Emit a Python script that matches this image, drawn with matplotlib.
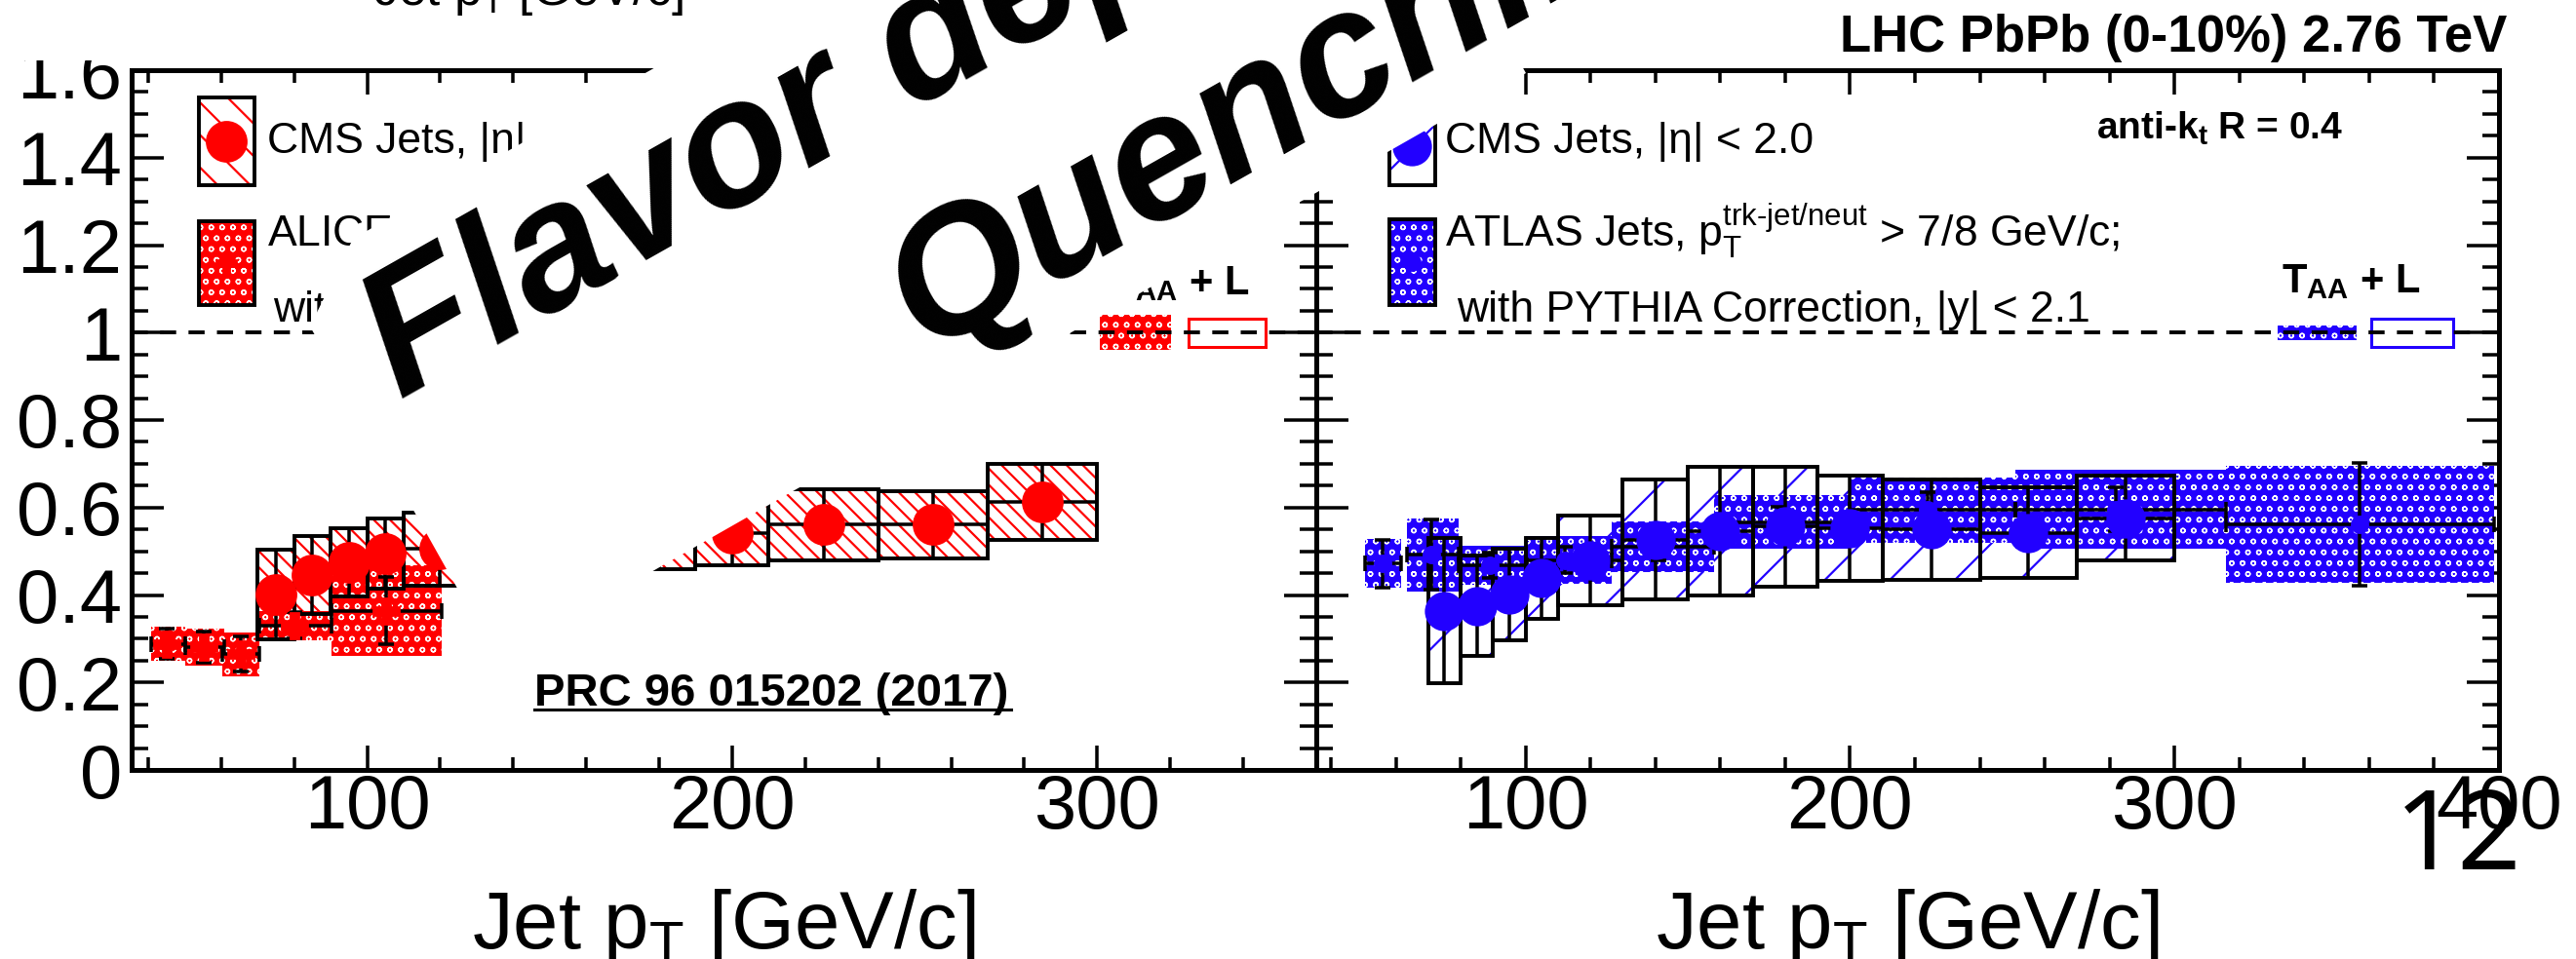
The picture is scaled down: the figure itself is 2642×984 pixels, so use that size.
import numpy as np
import matplotlib
matplotlib.use('Agg')
import matplotlib.pyplot as plt
from matplotlib.patches import Rectangle, Polygon
from matplotlib.lines import Line2D
from matplotlib.ticker import MultipleLocator, FuncFormatter

W, H, DPI = 2642, 984, 200

plt.rcParams['font.family'] = ['Liberation Sans', 'DejaVu Sans']
plt.rcParams['mathtext.fontset'] = 'custom'
plt.rcParams['mathtext.rm'] = 'Liberation Sans'
plt.rcParams['mathtext.it'] = 'Liberation Sans:italic'
plt.rcParams['mathtext.bf'] = 'Liberation Sans:bold'
plt.rcParams['hatch.linewidth'] = 0.8

RED = '#ff0000'
BLUE = '#2200ff'
DOT_LW = 0.5   # line width of the white dot pattern

# ---- data -----------------------------------------------------------
# CMS jet bins (both panels)
cms_lo = [70, 80, 90, 100, 110, 130, 150, 170, 190, 210, 240, 270]
cms_hi = [80, 90, 100, 110, 130, 150, 170, 190, 210, 240, 270, 300]
cms_pt = [75, 85, 95, 105, 120, 140, 160, 180, 200, 225, 255, 285]

# left panel, CMS (red)
cms_red = [0.401, 0.446, 0.475, 0.494, 0.505, 0.52, 0.53, 0.535, 0.542, 0.561, 0.561, 0.613]
cms_red_sys = [0.102, 0.089, 0.078, 0.080, 0.084, 0.080, 0.080, 0.075, 0.074, 0.081, 0.077, 0.087]

# right panel, CMS (blue)
cms_blue = [0.364, 0.375, 0.401, 0.438, 0.479, 0.527, 0.546, 0.557, 0.553, 0.550, 0.542, 0.576]
cms_blue_sys = [0.166, 0.115, 0.104, 0.093, 0.102, 0.136, 0.146, 0.137, 0.120, 0.115, 0.104, 0.097]

# left panel, ALICE
alice_lo = [40.9, 50.2, 60.4, 70.6, 90.2]
alice_hi = [50.2, 60.9, 70.6, 90.2, 120.4]
alice_pt = [45.0, 55.3, 65.5, 80.0, 105.3]
alice_val = [0.288, 0.281, 0.265, 0.330, 0.364]
alice_sys = [0.039, 0.043, 0.050, 0.034, 0.104]
alice_stat = [0.035, 0.035, 0.040, 0.030, 0.077]

# right panel, ATLAS
atlas_lo = [50.5, 63.5, 79.5, 100.0, 126.4, 158.2, 200.0, 251.0, 316.0]
atlas_hi = [61.5, 79.5, 100.5, 126.4, 158.2, 200.0, 251.0, 316.0, 398.5]
atlas_pt = [56, 71, 89, 112, 141, 178, 224, 282, 357]
atlas_val = [0.472, 0.492, 0.468, 0.480, 0.510, 0.567, 0.594, 0.596, 0.561]
atlas_sys = [0.056, 0.084, 0.045, 0.054, 0.058, 0.062, 0.075, 0.091, 0.134]
atlas_stat = [0.055, 0.080, 0.030, 0.030, 0.030, 0.035, 0.040, 0.050, 0.140]

# T_AA + lumi boxes [lo, hi, half height]
taa_left_fill = [300.8, 320.3, 0.040]
taa_left_line = [325.0, 346.0, 0.032]
taa_right_fill = [331.7, 356.0, 0.017]
taa_right_line = [360.7, 386.0, 0.032]

xlim_left = (35.5, 360)
xlim_right = (35.5, 400)

# white box behind the slide title (pixels from top-left)
title_box = [(794, 0), (362, 245), (318, 335), (435, 543), (467, 600),
             (510, 677), (1565, 75), (1523, 0)]


def px(x, y):
    return x / W, 1 - y / H


def thin_dots(patches):
    for p in patches:
        if hasattr(p, 'set_hatch_linewidth'):
            p.set_hatch_linewidth(DOT_LW)


def cms_boxes(ax, vals, sys, color, hatch, msize):
    lo = np.array(cms_lo, float)
    hi = np.array(cms_hi, float)
    v = np.array(vals)
    s = np.array(sys)
    ax.bar(lo, 2 * s, width=hi - lo, bottom=v - s, align='edge', facecolor='none',
           edgecolor=color, linewidth=0, hatch=hatch, zorder=1)
    ax.bar(lo, 2 * s, width=hi - lo, bottom=v - s, align='edge', fill=False,
           edgecolor='black', linewidth=1.4, zorder=3)
    ax.hlines(v, lo, hi, colors='black', lw=1.26, zorder=3)
    ax.vlines(cms_pt, v - s, v + s, colors='black', lw=1.26, zorder=3)
    ax.plot(cms_pt, v, 'o', color=color, mec=color, ms=msize, zorder=5)


def dotted_boxes(ax, lo, hi, pt, vals, sys, stat, color, marker, msize):
    lo = np.array(lo)
    hi = np.array(hi)
    pt = np.array(pt, float)
    v = np.array(vals)
    s = np.array(sys)
    with plt.rc_context({'hatch.linewidth': DOT_LW}):
        bars = ax.bar(lo, 2 * s, width=hi - lo, bottom=v - s, align='edge', facecolor=color,
                      edgecolor='white', linewidth=0, hatch='ooo', zorder=2)
    thin_dots(bars)
    ax.errorbar(pt, v, yerr=stat, xerr=[pt - lo, hi - pt], fmt=marker, color=color,
                mec=color, ms=msize, ecolor='black', elinewidth=1.26, capsize=3,
                capthick=1.26, zorder=4)


def taa(ax, fill, line, color):
    with plt.rc_context({'hatch.linewidth': DOT_LW}):
        bars = ax.bar(fill[0], 2 * fill[2], width=fill[1] - fill[0], bottom=1 - fill[2],
                      align='edge', facecolor=color, edgecolor='white', linewidth=0,
                      hatch='ooo', zorder=2)
    thin_dots(bars)
    ax.bar(line[0], 2 * line[2], width=line[1] - line[0], bottom=1 - line[2], align='edge',
           fill=False, edgecolor=color, linewidth=1.1, zorder=3)


def ylab(v, pos):
    if abs(v) < 1e-6:
        return '0'
    if abs(v - 1) < 1e-6:
        return '1'
    return '%.1f' % v


fig = plt.figure(figsize=(W / DPI, H / DPI), dpi=DPI)
axL = fig.add_axes([135 / W, 1 - 790 / H, 1215 / W, 718 / H])
axR = fig.add_axes([1350 / W, 1 - 790 / H, 1213 / W, 718 / H])

for ax, xl in ((axL, xlim_left), (axR, xlim_right)):
    ax.set_xlim(*xl)
    ax.set_ylim(0, 1.6)
    ax.xaxis.set_major_locator(MultipleLocator(100))
    ax.xaxis.set_minor_locator(MultipleLocator(20))
    ax.yaxis.set_major_locator(MultipleLocator(0.2))
    ax.yaxis.set_minor_locator(MultipleLocator(0.05))
    ax.tick_params(which='both', direction='in', top=True, right=True, width=1.26)
    ax.tick_params(axis='x', which='major', length=9, pad=1, labelsize=28)
    ax.tick_params(axis='x', which='minor', length=4.7)
    ax.tick_params(axis='y', which='major', length=12, pad=3.6, labelsize=28)
    ax.tick_params(axis='y', which='minor', length=6)
    for sp in ax.spines.values():
        sp.set_linewidth(1.8)
    ax.axhline(1, color='black', lw=1.4, ls=(0, (4.25, 3.25)), zorder=6)
    ax.text(0.5, -0.2549, 'Jet p$_\\mathrm{T}$ [GeV/c]', transform=ax.transAxes,
            ha='center', va='baseline', fontsize=30)

axL.yaxis.set_major_formatter(FuncFormatter(ylab))
axR.tick_params(labelleft=False)

# ---- left panel: CMS + ALICE ----
cms_boxes(axL, cms_red, cms_red_sys, RED, '\\\\\\\\', 14.4)
dotted_boxes(axL, alice_lo, alice_hi, alice_pt, alice_val, alice_sys, alice_stat, RED, 'P', 9.7)
taa(axL, taa_left_fill, taa_left_line, RED)

# legend, left
axL.add_patch(Rectangle((0.0568, 0.8357), 0.0469, 0.1253, transform=axL.transAxes,
                        facecolor='none', edgecolor=RED, lw=0, hatch='\\\\'))
axL.add_patch(Rectangle((0.0568, 0.8357), 0.0469, 0.1253, transform=axL.transAxes,
                        fill=False, edgecolor='black', lw=1.4))
axL.plot([0.0802], [0.8983], 'o', color=RED, ms=14.4, transform=axL.transAxes)
with plt.rc_context({'hatch.linewidth': DOT_LW}):
    leg_dots = axL.add_patch(Rectangle((0.0568, 0.6643), 0.0469, 0.1198,
                                       transform=axL.transAxes, facecolor=RED,
                                       edgecolor='white', lw=0, hatch='ooo'))
thin_dots([leg_dots])
axL.add_patch(Rectangle((0.0568, 0.6643), 0.0469, 0.1198, transform=axL.transAxes,
                        fill=False, edgecolor='black', lw=1.4))
axL.plot([0.0802], [0.7242], 'P', color=RED, ms=7, transform=axL.transAxes)
axL.text(0.1144, 0.8816, 'CMS Jets, |\u03b7| < 2.0', transform=axL.transAxes,
         fontsize=16, va='baseline')
axL.text(0.1144, 0.7479, 'ALICE Jets, p$_\\mathrm{T}^\\mathrm{lead}$ > 5 GeV/c;',
         transform=axL.transAxes, fontsize=16, va='baseline')
axL.text(0.1193, 0.6407, 'with PYTHIA Correction, |\u03b7| < 0.5', transform=axL.transAxes,
         fontsize=16, va='baseline')
axL.text(0.826, 0.6797, 'T$_\\mathbf{AA}$ + L', transform=axL.transAxes, fontsize=15,
         fontweight='bold', va='baseline')
axL.text(0.34, 0.0919, 'PRC 96 015202 (2017)', transform=axL.transAxes, fontsize=17,
         fontweight='bold', va='baseline')
axL.add_line(Line2D([0.34, 0.7424], [0.0864, 0.0864], transform=axL.transAxes,
                    color='black', lw=1.1))

# ---- right panel: CMS + ATLAS ----
cms_boxes(axR, cms_blue, cms_blue_sys, BLUE, '/', 13.5)
dotted_boxes(axR, atlas_lo, atlas_hi, atlas_pt, atlas_val, atlas_sys, atlas_stat, BLUE, 'o', 5.8)
taa(axR, taa_right_fill, taa_right_line, BLUE)

axR.add_patch(Rectangle((0.0618, 0.8357), 0.0388, 0.1253, transform=axR.transAxes,
                        facecolor='none', edgecolor=BLUE, lw=0, hatch='/'))
axR.add_patch(Rectangle((0.0618, 0.8357), 0.0388, 0.1253, transform=axR.transAxes,
                        fill=False, edgecolor='black', lw=1.4))
axR.plot([0.0812], [0.891], 'o', color=BLUE, ms=13.5, transform=axR.transAxes)
with plt.rc_context({'hatch.linewidth': DOT_LW}):
    leg_dots = axR.add_patch(Rectangle((0.0618, 0.6643), 0.0388, 0.1226,
                                       transform=axR.transAxes, facecolor=BLUE,
                                       edgecolor='white', lw=0, hatch='ooo'))
thin_dots([leg_dots])
axR.add_patch(Rectangle((0.0618, 0.6643), 0.0388, 0.1226, transform=axR.transAxes,
                        fill=False, edgecolor='black', lw=1.4))
axR.plot([0.0812], [0.7256], 'o', color=BLUE, ms=5.8, transform=axR.transAxes)
axR.text(0.1088, 0.8816, 'CMS Jets, |\u03b7| < 2.0', transform=axR.transAxes,
         fontsize=16, va='baseline')
axR.text(0.1088, 0.7479, 'ATLAS Jets, p$_\\mathrm{T}^\\text{trk-jet/neut}$ > 7/8 GeV/c;',
         transform=axR.transAxes, fontsize=16, va='baseline')
axR.text(0.1187, 0.6407, 'with PYTHIA Correction, |y| < 2.1', transform=axR.transAxes,
         fontsize=16, va='baseline')
axR.text(0.6595, 0.901, 'anti-k$_\\mathbf{t}$ R = 0.4', transform=axR.transAxes,
         fontsize=14, fontweight='bold', va='baseline')
axR.text(0.816, 0.6825, 'T$_\\mathbf{AA}$ + L', transform=axR.transAxes, fontsize=15,
         fontweight='bold', va='baseline')

# ---- slide decorations ----
fig.text(2571 / W, 1 - 53 / H, 'LHC PbPb (0-10%) 2.76 TeV', ha='right', va='baseline',
         fontsize=19, fontweight='bold')
fig.patches.append(Rectangle((0, 1 - 62 / H), 1300 / W, 62 / H, transform=fig.transFigure,
                             facecolor='white', edgecolor='none', zorder=1))
fig.text(383 / W, 1 - 5 / H, 'Jet p$_\\mathrm{T}$ [GeV/c]', ha='left', va='baseline',
         fontsize=18.4, zorder=3)
fig.patches.append(Polygon([px(x, y) for x, y in title_box], closed=True,
                           transform=fig.transFigure, facecolor='white',
                           edgecolor='none', zorder=6))
tkw = dict(rotation=29.5, rotation_mode='anchor', ha='left', va='baseline',
           fontsize=66, fontweight='bold', fontstyle='italic', zorder=8)
fig.text(*px(410, 410), 'Flavor dependence of Jet', **tkw)
fig.text(*px(948, 362), 'Quenching', **tkw)
fig.text(2456 / W, 1 - 892 / H, '12', ha='left', va='baseline', fontsize=41,
         fontfamily=['Noto Sans', 'DejaVu Sans'], fontweight='light', zorder=8)

fig.savefig('out.png', dpi=DPI)
